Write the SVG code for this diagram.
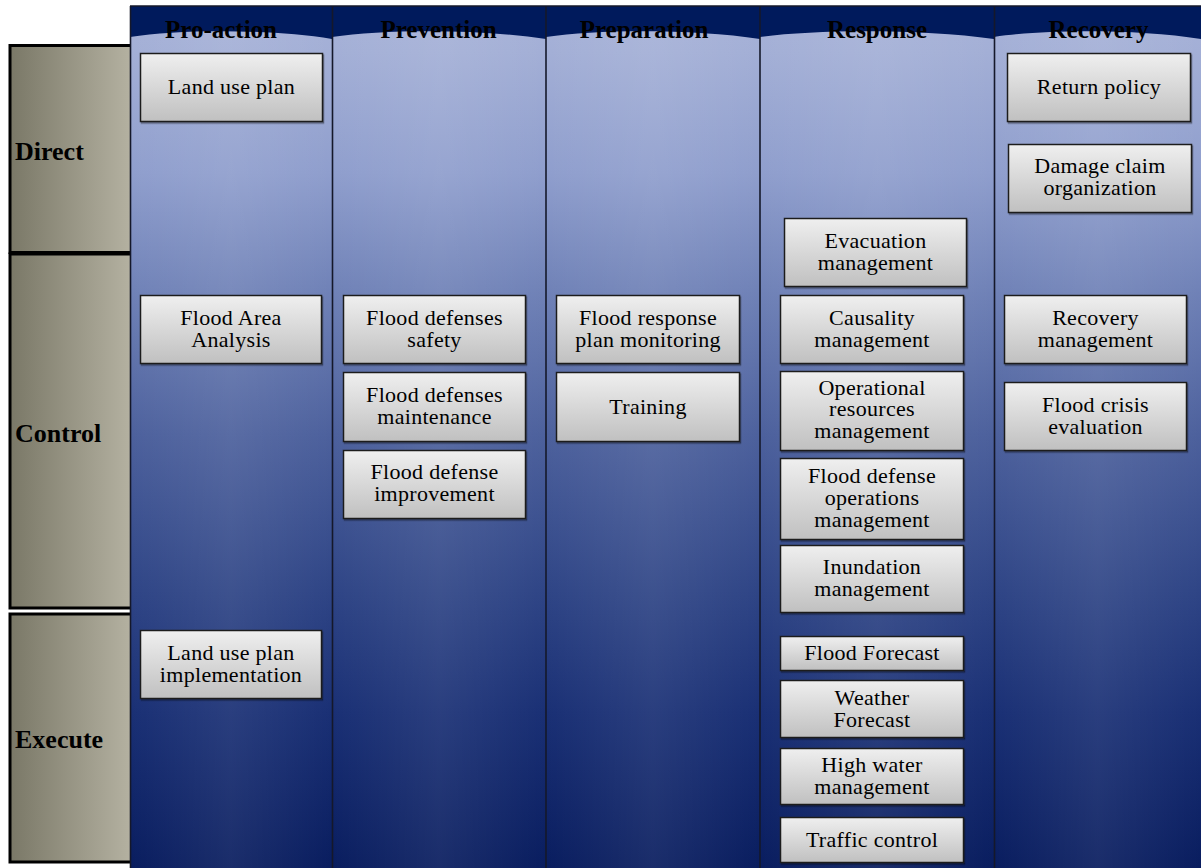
<svg xmlns="http://www.w3.org/2000/svg" width="1201" height="868" viewBox="0 0 1201 868">
  <defs>
    <linearGradient id="laneBg" x1="0" y1="0" x2="0" y2="868" gradientUnits="userSpaceOnUse">
      <stop offset="0" stop-color="#a8b3d9"/>
      <stop offset="0.06" stop-color="#a3afd6"/>
      <stop offset="0.2" stop-color="#8f9ecd"/>
      <stop offset="0.33" stop-color="#7183b8"/>
      <stop offset="0.5" stop-color="#4d619d"/>
      <stop offset="0.68" stop-color="#2f4586"/>
      <stop offset="0.82" stop-color="#1a3075"/>
      <stop offset="1" stop-color="#091d5f"/>
    </linearGradient>
    <linearGradient id="laneGlow" x1="0" y1="0" x2="1" y2="0">
      <stop offset="0" stop-color="#ffffff" stop-opacity="0"/>
      <stop offset="0.5" stop-color="#ffffff" stop-opacity="0.07"/>
      <stop offset="1" stop-color="#ffffff" stop-opacity="0"/>
    </linearGradient>
    <linearGradient id="rowBg" x1="0" y1="0" x2="1" y2="0">
      <stop offset="0" stop-color="#7a7867"/>
      <stop offset="1" stop-color="#b6b3a3"/>
    </linearGradient>
    <linearGradient id="boxBg" x1="0" y1="0" x2="0" y2="1">
      <stop offset="0" stop-color="#efefef"/>
      <stop offset="1" stop-color="#c0c0c0"/>
    </linearGradient>
    <filter id="shadow" x="-5%" y="-5%" width="112%" height="120%">
      <feDropShadow dx="1" dy="1.5" stdDeviation="0.6" flood-color="#000000" flood-opacity="0.4"/>
    </filter>
  </defs>
  <style>
    .row { fill: url(#rowBg); stroke: #000; stroke-width: 3; }
    .rowLabel { font-family: "Liberation Serif", "Times New Roman", serif; font-weight: bold; font-size: 26px; fill: #000; }
    .head { font-family: "Liberation Serif", "Times New Roman", serif; font-weight: bold; font-size: 25px; fill: #000; text-anchor: middle; }
    .band { fill: #001a5c; }
    .divider { stroke: #15182a; stroke-width: 1.6; }
    .box rect { fill: url(#boxBg); stroke: #1c1c1c; stroke-width: 1.5; filter: url(#shadow); }
    .box text { font-family: "Liberation Serif", "Times New Roman", serif; font-size: 22px; letter-spacing: 0.3px; fill: #000; text-anchor: middle; }
  </style>

  <rect width="1201" height="868" fill="#ffffff"/>

  <!-- row labels -->
  <g id="row-direct">
    <rect class="row" x="10" y="45.5" width="125" height="207"/>
    <text class="rowLabel" x="15" y="160">Direct</text>
  </g>
  <g id="row-control">
    <rect class="row" x="10" y="254" width="125" height="354"/>
    <text class="rowLabel" x="15" y="442">Control</text>
  </g>
  <g id="row-execute">
    <rect class="row" x="10" y="614" width="125" height="248"/>
    <text class="rowLabel" x="15" y="748">Execute</text>
  </g>

  <!-- phase lanes -->
  <g id="lanes">
    <rect x="130" y="6" width="1071" height="862" fill="url(#laneBg)"/>
    <rect x="130" y="6" width="202" height="862" fill="url(#laneGlow)"/>
    <rect x="332" y="6" width="214" height="862" fill="url(#laneGlow)"/>
    <rect x="546" y="6" width="214" height="862" fill="url(#laneGlow)"/>
    <rect x="760" y="6" width="234" height="862" fill="url(#laneGlow)"/>
    <rect x="994" y="6" width="207" height="862" fill="url(#laneGlow)"/>
    <!-- wavy header bands -->
    <path class="band" d="M130,6 H332 V39 C271,29 180,29 130,37 Z"/>
    <path class="band" d="M332,6 H546 V39 C482,29 385,29 332,37 Z"/>
    <path class="band" d="M546,6 H760 V39 C696,29 599,29 546,37 Z"/>
    <path class="band" d="M760,6 H994 V39 C924,29 818,29 760,37 Z"/>
    <path class="band" d="M994,6 H1201 V39 C1139,29 1046,29 994,37 Z"/>
    <line class="divider" x1="130" y1="6" x2="1201" y2="6"/>
    <line class="divider" x1="130.5" y1="6" x2="130.5" y2="868"/>
    <line class="divider" x1="332.5" y1="6" x2="332.5" y2="868"/>
    <line class="divider" x1="546" y1="6" x2="546" y2="868"/>
    <line class="divider" x1="760" y1="6" x2="760" y2="868"/>
    <line class="divider" x1="994.5" y1="6" x2="994.5" y2="868"/>
  </g>

  <g id="headers">
    <text class="head" x="221" y="38">Pro-action</text>
    <text class="head" x="438.5" y="38">Prevention</text>
    <text class="head" x="644" y="38">Preparation</text>
    <text class="head" x="877" y="38">Response</text>
    <text class="head" x="1098.5" y="38">Recovery</text>
  </g>

  <g id="connectors"/>

  <!-- Pro-action -->
  <g id="land-use-plan" class="box">
    <rect x="140.5" y="53.5" width="182" height="68"/>
    <text x="231.5" y="94">Land use plan</text>
  </g>
  <g id="flood-area-analysis" class="box">
    <rect x="140.5" y="295.5" width="181" height="68"/>
    <text x="231" y="325">Flood Area</text>
    <text x="231" y="347">Analysis</text>
  </g>
  <g id="land-use-plan-implementation" class="box">
    <rect x="140.5" y="630.5" width="181" height="68"/>
    <text x="231" y="660">Land use plan</text>
    <text x="231" y="682">implementation</text>
  </g>

  <!-- Prevention -->
  <g id="flood-defenses-safety" class="box">
    <rect x="343.5" y="295.5" width="182" height="68"/>
    <text x="434.5" y="325">Flood defenses</text>
    <text x="434.5" y="347">safety</text>
  </g>
  <g id="flood-defenses-maintenance" class="box">
    <rect x="343.5" y="372.5" width="182" height="69"/>
    <text x="434.5" y="402">Flood defenses</text>
    <text x="434.5" y="424">maintenance</text>
  </g>
  <g id="flood-defense-improvement" class="box">
    <rect x="343.5" y="450.5" width="182" height="68"/>
    <text x="434.5" y="479">Flood defense</text>
    <text x="434.5" y="501">improvement</text>
  </g>

  <!-- Preparation -->
  <g id="flood-response-plan-monitoring" class="box">
    <rect x="556.5" y="295.5" width="183" height="68"/>
    <text x="648" y="325">Flood response</text>
    <text x="648" y="347">plan monitoring</text>
  </g>
  <g id="training" class="box">
    <rect x="556.5" y="372.5" width="183" height="69"/>
    <text x="648" y="414">Training</text>
  </g>

  <!-- Response -->
  <g id="evacuation-management" class="box">
    <rect x="784.5" y="218.5" width="182" height="68"/>
    <text x="875.5" y="248">Evacuation</text>
    <text x="875.5" y="270">management</text>
  </g>
  <g id="causality-management" class="box">
    <rect x="780.5" y="295.5" width="183" height="68"/>
    <text x="872" y="325">Causality</text>
    <text x="872" y="347">management</text>
  </g>
  <g id="operational-resources-management" class="box">
    <rect x="780.5" y="371.5" width="183" height="79"/>
    <text x="872" y="395">Operational</text>
    <text x="872" y="416">resources</text>
    <text x="872" y="438">management</text>
  </g>
  <g id="flood-defense-operations-management" class="box">
    <rect x="780.5" y="458.5" width="183" height="81"/>
    <text x="872" y="483">Flood defense</text>
    <text x="872" y="505">operations</text>
    <text x="872" y="527">management</text>
  </g>
  <g id="inundation-management" class="box">
    <rect x="780.5" y="545.5" width="183" height="67"/>
    <text x="872" y="574">Inundation</text>
    <text x="872" y="596">management</text>
  </g>
  <g id="flood-forecast" class="box">
    <rect x="780.5" y="636.5" width="183" height="34"/>
    <text x="872" y="660">Flood Forecast</text>
  </g>
  <g id="weather-forecast" class="box">
    <rect x="780.5" y="680.5" width="183" height="57"/>
    <text x="872" y="705">Weather</text>
    <text x="872" y="727">Forecast</text>
  </g>
  <g id="high-water-management" class="box">
    <rect x="780.5" y="748.5" width="183" height="56"/>
    <text x="872" y="772">High water</text>
    <text x="872" y="794">management</text>
  </g>
  <g id="traffic-control" class="box">
    <rect x="780.5" y="817.5" width="183" height="45"/>
    <text x="872" y="847">Traffic control</text>
  </g>

  <!-- Recovery -->
  <g id="return-policy" class="box">
    <rect x="1007.5" y="53.5" width="183" height="68"/>
    <text x="1099" y="94">Return policy</text>
  </g>
  <g id="damage-claim-organization" class="box">
    <rect x="1008.5" y="144.5" width="183" height="68"/>
    <text x="1100" y="173">Damage claim</text>
    <text x="1100" y="195">organization</text>
  </g>
  <g id="recovery-management" class="box">
    <rect x="1004.5" y="295.5" width="182" height="68"/>
    <text x="1095.5" y="325">Recovery</text>
    <text x="1095.5" y="347">management</text>
  </g>
  <g id="flood-crisis-evaluation" class="box">
    <rect x="1004.5" y="382.5" width="182" height="68"/>
    <text x="1095.5" y="412">Flood crisis</text>
    <text x="1095.5" y="434">evaluation</text>
  </g>
</svg>
